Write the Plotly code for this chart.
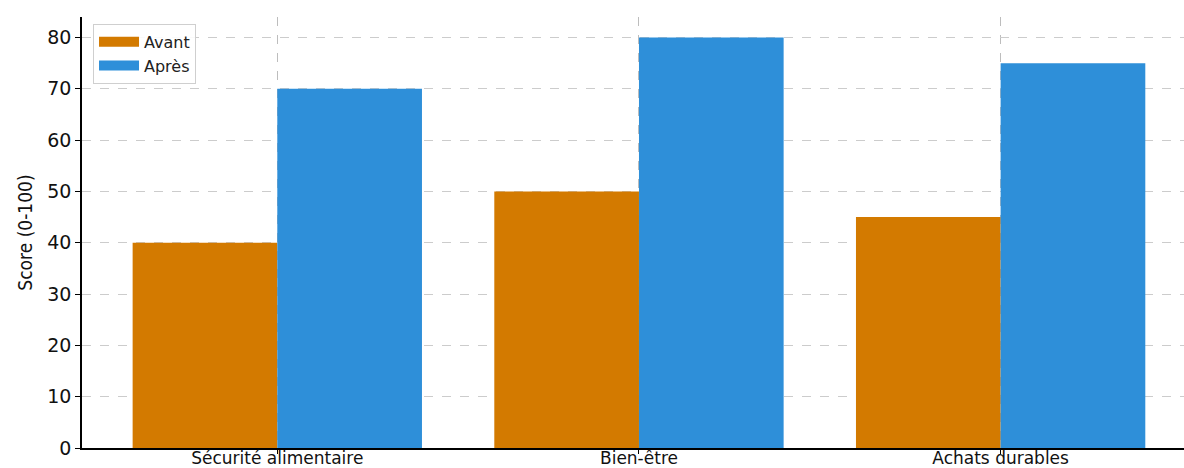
import plotly.graph_objects as go

# Scores before / after, per domain
categories = ["Sécurité alimentaire", "Bien-être", "Achats durables"]
avant = [40, 50, 45]
apres = [70, 80, 75]
series_names = ["Avant", "Après"]
y_ticks = [0, 10, 20, 30, 40, 50, 60, 70, 80]

ORANGE = "#D37A00"
BLUE = "#2E8FD9"
FONT = "DejaVu Sans, Verdana, sans-serif"

fig = go.Figure()
fig.add_trace(go.Bar(x=categories, y=avant, name=series_names[0], showlegend=False,
                     marker=dict(color=ORANGE, line=dict(width=0))))
fig.add_trace(go.Bar(x=categories, y=apres, name=series_names[1], showlegend=False,
                     marker=dict(color=BLUE, line=dict(width=0))))

# Legend entries drawn as wide colour strips
for name, color in zip(series_names, [ORANGE, BLUE]):
    fig.add_trace(go.Scatter(x=[None], y=[None], mode="lines", name=name,
                             line=dict(color=color, width=10), hoverinfo="skip"))

fig.update_layout(
    width=1184, height=468,
    margin=dict(l=82, r=0, t=17, b=20, autoexpand=False),
    paper_bgcolor="white", plot_bgcolor="white",
    barmode="group", bargap=0.2, bargroupgap=0,
    font=dict(family=FONT, color="#111111"),
    showlegend=True,
    legend=dict(
        x=0.01, y=0.984, xanchor="left", yanchor="top",
        bgcolor="rgba(255,255,255,0.9)", bordercolor="#cfcfcf", borderwidth=1,
        font=dict(size=16, family=FONT, color="#222222"),
        tracegroupgap=0, itemwidth=40,
    ),
)

fig.update_xaxes(
    type="category", range=[-0.54, 2.507],
    showline=True, linecolor="black", linewidth=1.5,
    ticks="outside", ticklen=4, tickcolor="black", tickwidth=1,
    ticklabelstandoff=-10,
    tickfont=dict(size=17, family=FONT, color="#111111"),
    showgrid=True, gridcolor="#bdbdbd", griddash="dash", gridwidth=1,
    automargin=False, zeroline=False,
)
fig.update_yaxes(
    range=[0, 84], tickvals=y_ticks,
    showline=True, linecolor="black", linewidth=1.5,
    ticks="outside", ticklen=5, tickcolor="black", tickwidth=1,
    tickfont=dict(size=19, family=FONT, color="#111111"),
    showgrid=True, gridcolor="#cccccc", griddash="dash", gridwidth=1,
    zeroline=False, automargin=False,
    title=dict(text="Score (0-100)", standoff=10,
               font=dict(size=19, family="DejaVu Sans Condensed, Liberation Sans Narrow, Arial Narrow, sans-serif",
                         color="#111111")),
)

fig.write_html("out.html")
